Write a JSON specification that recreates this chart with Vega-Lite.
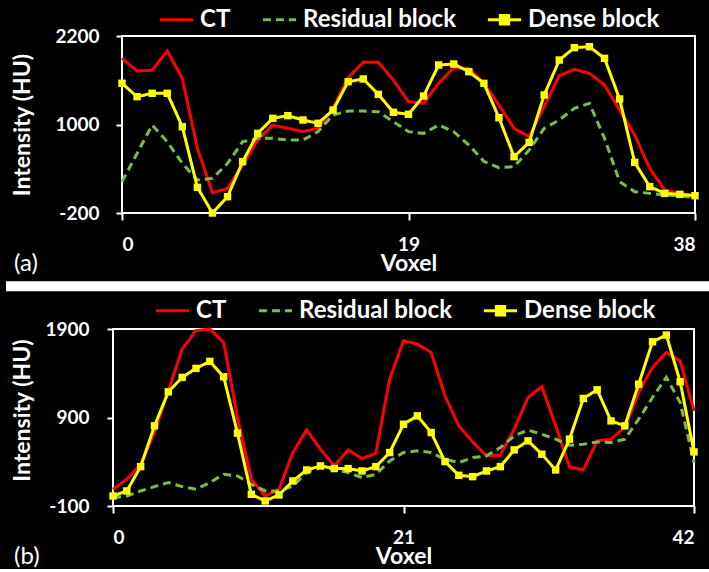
{
  "$schema": "https://vega.github.io/schema/vega-lite/v6.json",
  "background": "black",
  "padding": {"left": 0, "right": 0, "top": 1, "bottom": 0},
  "spacing": 5,
  "resolve": {"scale": {"color": "independent", "strokeDash": "independent"}, "legend": {"color": "independent", "strokeDash": "independent"}},
  "config": {
    "view": {"stroke": null},
    "font": "Lato",
    "axis": {
      "labelFont": "Lato", "labelFontWeight": "bold", "labelColor": "white", "labelFontSize": 19,
      "titleFont": "Lato", "titleFontWeight": "bold", "titleColor": "white", "titleFontSize": 23,
      "tickColor": "white", "tickWidth": 2, "grid": false, "domain": false,
      "labelExpr": "'' + datum.value"
    },
    "legend": {
      "orient": "none", "direction": "horizontal", "title": null,
      "labelFont": "Lato", "labelFontWeight": "bold", "labelFontSize": 24, "labelColor": "white",
      "labelLimit": 400, "symbolStrokeWidth": 3, "symbolSize": 1100, "symbolType": "stroke",
      "columnPadding": 25, "labelOffset": 5
    }
  },
  "datasets": {
    "a": [
      {"v": 0, "CT": 1897, "Residual block": 225, "Dense block": 1559},
      {"v": 1, "CT": 1725, "Residual block": 609, "Dense block": 1377},
      {"v": 2, "CT": 1735, "Residual block": 993, "Dense block": 1423},
      {"v": 3, "CT": 1997, "Residual block": 767, "Dense block": 1423},
      {"v": 4, "CT": 1626, "Residual block": 473, "Dense block": 970},
      {"v": 5, "CT": 677, "Residual block": 247, "Dense block": 148},
      {"v": 6, "CT": 75, "Residual block": 270, "Dense block": -200},
      {"v": 7, "CT": 134, "Residual block": 473, "Dense block": 21},
      {"v": 8, "CT": 451, "Residual block": 767, "Dense block": 496},
      {"v": 9, "CT": 790, "Residual block": 812, "Dense block": 880},
      {"v": 10, "CT": 993, "Residual block": 812, "Dense block": 1084},
      {"v": 11, "CT": 948, "Residual block": 790, "Dense block": 1120},
      {"v": 12, "CT": 905, "Residual block": 790, "Dense block": 1061},
      {"v": 13, "CT": 948, "Residual block": 903, "Dense block": 1016},
      {"v": 14, "CT": 1219, "Residual block": 1129, "Dense block": 1196},
      {"v": 15, "CT": 1635, "Residual block": 1183, "Dense block": 1581},
      {"v": 16, "CT": 1843, "Residual block": 1183, "Dense block": 1617},
      {"v": 17, "CT": 1843, "Residual block": 1174, "Dense block": 1409},
      {"v": 18, "CT": 1603, "Residual block": 1038, "Dense block": 1165},
      {"v": 19, "CT": 1309, "Residual block": 903, "Dense block": 1138},
      {"v": 20, "CT": 1287, "Residual block": 880, "Dense block": 1386},
      {"v": 21, "CT": 1558, "Residual block": 993, "Dense block": 1807},
      {"v": 22, "CT": 1770, "Residual block": 903, "Dense block": 1820},
      {"v": 23, "CT": 1761, "Residual block": 722, "Dense block": 1716},
      {"v": 24, "CT": 1558, "Residual block": 500, "Dense block": 1558},
      {"v": 25, "CT": 1264, "Residual block": 414, "Dense block": 1092},
      {"v": 26, "CT": 948, "Residual block": 428, "Dense block": 564},
      {"v": 27, "CT": 835, "Residual block": 654, "Dense block": 758},
      {"v": 28, "CT": 1242, "Residual block": 948, "Dense block": 1400},
      {"v": 29, "CT": 1662, "Residual block": 1061, "Dense block": 1874},
      {"v": 30, "CT": 1748, "Residual block": 1219, "Dense block": 2042},
      {"v": 31, "CT": 1694, "Residual block": 1287, "Dense block": 2055},
      {"v": 32, "CT": 1535, "Residual block": 812, "Dense block": 1897},
      {"v": 33, "CT": 1196, "Residual block": 225, "Dense block": 1346},
      {"v": 34, "CT": 857, "Residual block": 89, "Dense block": 487},
      {"v": 35, "CT": 405, "Residual block": 66, "Dense block": 157},
      {"v": 36, "CT": 112, "Residual block": 44, "Dense block": 66},
      {"v": 37, "CT": 66, "Residual block": 35, "Dense block": 53},
      {"v": 38, "CT": 35, "Residual block": 8, "Dense block": 35}
    ],
    "b": [
      {"v": 0, "CT": 89, "Residual block": -5, "Dense block": 13},
      {"v": 1, "CT": 202, "Residual block": 13, "Dense block": 70},
      {"v": 2, "CT": 372, "Residual block": 70, "Dense block": 345},
      {"v": 3, "CT": 730, "Residual block": 119, "Dense block": 806},
      {"v": 4, "CT": 1202, "Residual block": 164, "Dense block": 1190},
      {"v": 5, "CT": 1673, "Residual block": 119, "Dense block": 1353},
      {"v": 6, "CT": 1881, "Residual block": 89, "Dense block": 1455},
      {"v": 7, "CT": 1900, "Residual block": 164, "Dense block": 1534},
      {"v": 8, "CT": 1749, "Residual block": 258, "Dense block": 1360},
      {"v": 9, "CT": 900, "Residual block": 240, "Dense block": 723},
      {"v": 10, "CT": 202, "Residual block": 145, "Dense block": 32},
      {"v": 11, "CT": 13, "Residual block": 70, "Dense block": -43},
      {"v": 12, "CT": 89, "Residual block": 70, "Dense block": 25},
      {"v": 13, "CT": 504, "Residual block": 126, "Dense block": 183},
      {"v": 14, "CT": 760, "Residual block": 277, "Dense block": 307},
      {"v": 15, "CT": 541, "Residual block": 334, "Dense block": 353},
      {"v": 16, "CT": 353, "Residual block": 315, "Dense block": 323},
      {"v": 17, "CT": 534, "Residual block": 277, "Dense block": 323},
      {"v": 18, "CT": 436, "Residual block": 221, "Dense block": 296},
      {"v": 19, "CT": 496, "Residual block": 258, "Dense block": 345},
      {"v": 20, "CT": 1334, "Residual block": 409, "Dense block": 504},
      {"v": 21, "CT": 1768, "Residual block": 504, "Dense block": 824},
      {"v": 22, "CT": 1730, "Residual block": 523, "Dense block": 919},
      {"v": 23, "CT": 1636, "Residual block": 504, "Dense block": 730},
      {"v": 24, "CT": 1145, "Residual block": 428, "Dense block": 402},
      {"v": 25, "CT": 806, "Residual block": 391, "Dense block": 247},
      {"v": 26, "CT": 624, "Residual block": 447, "Dense block": 232},
      {"v": 27, "CT": 466, "Residual block": 466, "Dense block": 296},
      {"v": 28, "CT": 474, "Residual block": 560, "Dense block": 345},
      {"v": 29, "CT": 768, "Residual block": 692, "Dense block": 534},
      {"v": 30, "CT": 1126, "Residual block": 757, "Dense block": 636},
      {"v": 31, "CT": 1251, "Residual block": 711, "Dense block": 485},
      {"v": 32, "CT": 806, "Residual block": 655, "Dense block": 307},
      {"v": 33, "CT": 345, "Residual block": 587, "Dense block": 655},
      {"v": 34, "CT": 307, "Residual block": 598, "Dense block": 1115},
      {"v": 35, "CT": 636, "Residual block": 624, "Dense block": 1213},
      {"v": 36, "CT": 655, "Residual block": 617, "Dense block": 862},
      {"v": 37, "CT": 787, "Residual block": 655, "Dense block": 806},
      {"v": 38, "CT": 1183, "Residual block": 881, "Dense block": 1277},
      {"v": 39, "CT": 1466, "Residual block": 1126, "Dense block": 1756},
      {"v": 40, "CT": 1636, "Residual block": 1353, "Dense block": 1832},
      {"v": 41, "CT": 1541, "Residual block": 1070, "Dense block": 1304},
      {"v": 42, "CT": 975, "Residual block": 391, "Dense block": 511}
    ]
  },
  "vconcat": [
    {
      "width": 573,
      "height": 177,
      "title": {"text": "(a)", "orient": "bottom", "anchor": "start", "frame": "group", "color": "white", "font": "Lato", "fontSize": 24, "fontWeight": "normal", "dx": -108, "dy": -27},
      "layer": [
        {
          "data": {"values": [{}]},
          "mark": {"type": "rect", "filled": false, "stroke": "white", "strokeWidth": 2},
          "encoding": {
            "x": {"datum": 0, "type": "quantitative", "scale": {"domain": [0, 38], "nice": false, "zero": false}},
            "x2": {"datum": 38},
            "y": {"datum": -200, "type": "quantitative", "scale": {"domain": [-200, 2200], "nice": false, "zero": false}},
            "y2": {"datum": 2200}
          }
        },
        {
          "data": {"name": "a"},
          "transform": [{"fold": ["CT", "Residual block", "Dense block"], "as": ["series", "hu"]}],
          "mark": {"type": "line", "strokeWidth": 3},
          "encoding": {
            "x": {"field": "v", "type": "quantitative", "scale": {"domain": [0, 38], "nice": false, "zero": false},
                  "axis": {"values": [0, 19, 38], "title": "Voxel", "tickSize": 7, "labelPadding": 15, "titlePadding": -2}},
            "y": {"field": "hu", "type": "quantitative", "scale": {"domain": [-200, 2200], "nice": false, "zero": false},
                  "axis": {"values": [-200, 1000, 2200], "title": "Intensity (HU)", "tickSize": 6, "labelPadding": 17, "titlePadding": 20}},
            "color": {"field": "series", "type": "nominal",
                      "scale": {"domain": ["CT", "Residual block", "Dense block"], "range": ["#FF0000", "#78BE46", "#FFFF00"]},
                      "legend": {"legendX": 36, "legendY": -35, "encode": {"symbols": {"update": {
                        "shape": {"signal": "datum.value === 'Dense block' ? 'M-1,0H1M-0.25,-0.25H0.25V0.25H-0.25Z' : 'stroke'"},
                        "fill": {"signal": "datum.value === 'Dense block' ? '#FFFF00' : 'transparent'"}}}}}},
            "strokeDash": {"field": "series", "type": "nominal",
                           "scale": {"domain": ["CT", "Residual block", "Dense block"], "range": [[1, 0], [8, 5], [1, 0]]}}
          }
        },
        {
          "data": {"name": "a"},
          "mark": {"type": "square", "size": 55, "filled": true, "color": "#FFFF00", "opacity": 1},
          "encoding": {
            "x": {"field": "v", "type": "quantitative"},
            "y": {"field": "Dense block", "type": "quantitative"}
          }
        }
      ]
    },
    {
      "width": 572,
      "height": 177,
      "title": {"text": "(b)", "orient": "bottom", "anchor": "start", "frame": "group", "color": "white", "font": "Lato", "fontSize": 24, "fontWeight": "normal", "dx": -108, "dy": -27},
      "layer": [
        {
          "data": {"values": [{}]},
          "mark": {"type": "rule", "color": "white", "strokeWidth": 10, "strokeCap": "butt", "clip": false},
          "encoding": {
            "x": {"datum": -7.735, "type": "quantitative", "scale": {"domain": [0, 42], "range": [-9, 572], "nice": false, "zero": false}},
            "x2": {"datum": 43.52},
            "y": {"datum": 2384, "type": "quantitative", "scale": {"domain": [-100, 1900], "nice": false, "zero": false}}
          }
        },
        {
          "data": {"values": [{}]},
          "mark": {"type": "rect", "filled": false, "stroke": "white", "strokeWidth": 2},
          "encoding": {
            "x": {"datum": 0, "type": "quantitative"},
            "x2": {"datum": 42},
            "y": {"datum": -100, "type": "quantitative"},
            "y2": {"datum": 1900}
          }
        },
        {
          "data": {"name": "b"},
          "transform": [{"fold": ["CT", "Residual block", "Dense block"], "as": ["series", "hu"]}],
          "mark": {"type": "line", "strokeWidth": 3},
          "encoding": {
            "x": {"field": "v", "type": "quantitative", "scale": {"domain": [0, 42], "range": [-9, 572], "nice": false, "zero": false},
                  "axis": {"values": [0, 21, 42], "title": "Voxel", "tickSize": 7, "labelPadding": 15, "titlePadding": -2, "titleX": 281.5}},
            "y": {"field": "hu", "type": "quantitative", "scale": {"domain": [-100, 1900], "nice": false, "zero": false},
                  "axis": {"values": [-100, 900, 1900], "title": "Intensity (HU)", "tickSize": 6, "labelPadding": 18, "titlePadding": 10, "offset": 9, "titleY": 81}},
            "color": {"field": "series", "type": "nominal",
                      "scale": {"domain": ["CT", "Residual block", "Dense block"], "range": ["#FF0000", "#78BE46", "#FFFF00"]},
                      "legend": {"legendX": 32, "legendY": -37, "encode": {"symbols": {"update": {
                        "shape": {"signal": "datum.value === 'Dense block' ? 'M-1,0H1M-0.25,-0.25H0.25V0.25H-0.25Z' : 'stroke'"},
                        "fill": {"signal": "datum.value === 'Dense block' ? '#FFFF00' : 'transparent'"}}}}}},
            "strokeDash": {"field": "series", "type": "nominal",
                           "scale": {"domain": ["CT", "Residual block", "Dense block"], "range": [[1, 0], [8, 5], [1, 0]]}}
          }
        },
        {
          "data": {"name": "b"},
          "mark": {"type": "square", "size": 55, "filled": true, "color": "#FFFF00", "opacity": 1},
          "encoding": {
            "x": {"field": "v", "type": "quantitative"},
            "y": {"field": "Dense block", "type": "quantitative"}
          }
        }
      ]
    }
  ]
}
